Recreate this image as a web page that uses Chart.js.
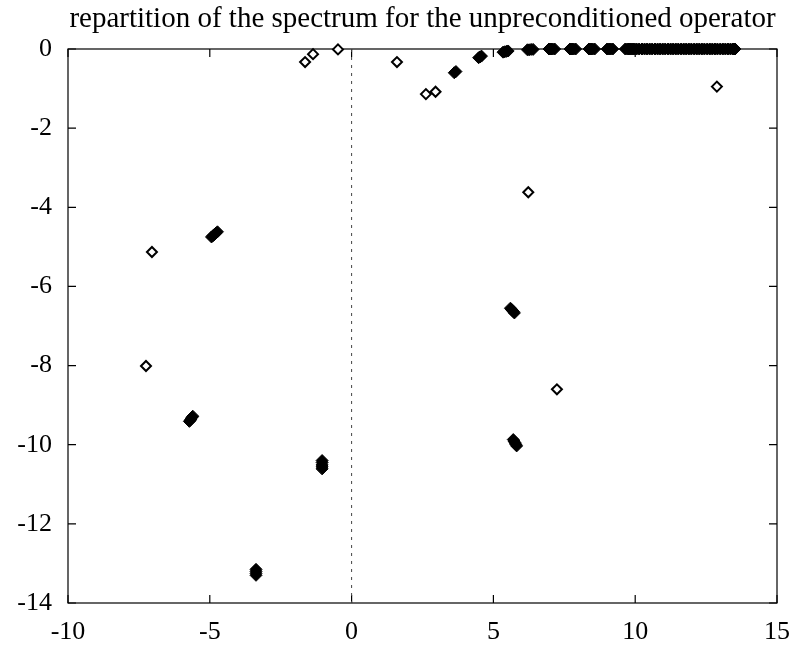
<!DOCTYPE html>
<html>
<head>
<meta charset="utf-8">
<script src="https://cdn.jsdelivr.net/npm/chart.js@4"></script>
<style>
  html, body { margin: 0; padding: 0; background: #fff; }
  canvas { display: block; }
</style>
</head>
<body>
<canvas id="c" width="792" height="645"></canvas>
<script>
// isolated eigenvalues (single hollow diamonds)
const singleRe = [-1.64, -1.36, -0.48, 1.60, 2.62, 2.96, 12.88, 6.23, 7.24, -7.04, -7.25]
const singleIm = [-0.33, -0.13, -0.01, -0.33, -1.14, -1.08, -0.95, -3.62, -8.60, -5.13, -8.01]

// clustered eigenvalues (overlapping diamonds, look like solid blobs)
const clusterRe = [
  3.62, 3.68, 4.48, 4.53, 4.58,
  5.34, 5.40, 5.46, 5.52, 6.20, 6.26, 6.33, 6.40,
  6.96, 7.03, 7.09, 7.16, 7.70, 7.77, 7.83, 7.90,
  8.37, 8.44, 8.50, 8.57, 9.01, 9.08, 9.14, 9.21,
  9.65, 9.72, 9.78, 9.85, 9.92, 9.98,
  10.05, 10.14, 10.24, 10.33, 10.42, 10.51, 10.60, 10.70, 10.79, 10.88,
  10.97, 11.06, 11.16, 11.25, 11.34, 11.43, 11.52, 11.62, 11.71, 11.80,
  11.89, 11.98, 12.08, 12.17, 12.26, 12.35, 12.44, 12.54, 12.63, 12.72,
  12.81, 12.90, 13.00, 13.09, 13.18, 13.27, 13.36, 13.45, 13.52,
  -4.94, -4.89, -4.84, -4.78, -4.73,
  -5.72, -5.69, -5.66, -5.63, -5.60,
  -1.04, -1.04, -1.04, -1.04, -1.04,
  -3.37, -3.37, -3.37, -3.37,
  5.60, 5.64, 5.67, 5.71, 5.74,
  5.70, 5.73, 5.76, 5.79, 5.82
]
const clusterIm = [
  -0.60, -0.57, -0.22, -0.20, -0.18,
  -0.08, -0.07, -0.06, -0.05, -0.02, -0.02, -0.01, -0.01,
  0, 0, 0, 0, 0, 0, 0, 0,
  0, 0, 0, 0, 0, 0, 0, 0,
  0, 0, 0, 0, 0, 0,
  0, 0, 0, 0, 0, 0, 0, 0, 0, 0,
  0, 0, 0, 0, 0, 0, 0, 0, 0, 0,
  0, 0, 0, 0, 0, 0, 0, 0, 0, 0,
  0, 0, 0, 0, 0, 0, 0, 0, 0,
  -4.75, -4.72, -4.69, -4.65, -4.62,
  -9.41, -9.38, -9.35, -9.31, -9.28,
  -10.40, -10.45, -10.51, -10.56, -10.61,
  -13.15, -13.20, -13.25, -13.30,
  -6.55, -6.58, -6.61, -6.64, -6.67,
  -9.87, -9.91, -9.95, -9.99, -10.03
]

// dotted imaginary axis
const axisRe = [0, 0]
const axisIm = [0, -14]

const xTicks = [-10, -5, 0, 5, 10, 15]
const yTicks = [0, -2, -4, -6, -8, -10, -12, -14]

const SERIF = "'Liberation Serif', 'Times New Roman', serif"

const toPoints = (xs, ys) => xs.map((x, i) => ({ x: x, y: ys[i] }))

// gnuplot style frame with inward ticks on all four sides
const framePlugin = {
  id: 'frame',
  beforeDatasetsDraw(chart) {
    const { ctx, chartArea: a, scales } = chart
    const len = 8
    ctx.save()
    ctx.strokeStyle = '#000'
    ctx.lineWidth = 1.2
    ctx.strokeRect(a.left, a.top, a.right - a.left, a.bottom - a.top)
    ctx.beginPath()
    xTicks.forEach(v => {
      const px = scales.x.getPixelForValue(v)
      ctx.moveTo(px, a.bottom); ctx.lineTo(px, a.bottom - len)
      ctx.moveTo(px, a.top); ctx.lineTo(px, a.top + len)
    })
    yTicks.forEach(v => {
      const py = scales.y.getPixelForValue(v)
      ctx.moveTo(a.left, py); ctx.lineTo(a.left + len, py)
      ctx.moveTo(a.right, py); ctx.lineTo(a.right - len, py)
    })
    ctx.stroke()
    ctx.restore()
  }
}

new Chart(document.getElementById('c'), {
  type: 'scatter',
  data: {
    datasets: [
      {
        data: toPoints(axisRe, axisIm),
        showLine: true,
        borderColor: '#444',
        borderWidth: 1,
        borderDash: [3, 5],
        pointRadius: 0,
        clip: false
      },
      {
        data: toPoints(singleRe, singleIm),
        pointStyle: 'rectRot',
        pointRadius: 5,
        pointBorderWidth: 2,
        borderColor: '#000',
        backgroundColor: '#fff',
        clip: false
      },
      {
        data: toPoints(clusterRe, clusterIm),
        pointStyle: 'rectRot',
        pointRadius: 6,
        pointBorderWidth: 1,
        borderColor: '#000',
        backgroundColor: '#000',
        clip: false
      }
    ]
  },
  options: {
    responsive: false,
    animation: false,
    events: [],
    layout: { padding: { left: 0, right: 15, top: 0, bottom: 0 } },
    plugins: {
      legend: { display: false },
      tooltip: { enabled: false },
      title: {
        display: true,
        fullSize: false,
        text: 'repartition of the spectrum for the unpreconditioned operator',
        color: '#000',
        font: { family: SERIF, size: 29, weight: 'normal', lineHeight: 1.2 },
        padding: { top: 2, bottom: 12.2 }
      }
    },
    scales: {
      x: {
        type: 'linear',
        min: -10,
        max: 15,
        afterFit: s => { s.height = 42; s.paddingLeft = 0; s.paddingRight = 0 },
        afterBuildTicks: s => { s.ticks = xTicks.map(v => ({ value: v })) },
        grid: { display: false, drawTicks: false },
        border: { display: false },
        ticks: {
          autoSkip: false,
          maxRotation: 0,
          padding: 14,
          color: '#000',
          font: { family: SERIF, size: 26 }
        }
      },
      y: {
        type: 'linear',
        min: -14,
        max: 0,
        afterFit: s => { s.width = 68; s.paddingTop = 0; s.paddingBottom = 0 },
        afterBuildTicks: s => { s.ticks = yTicks.map(v => ({ value: v })) },
        grid: { display: false, drawTicks: false },
        border: { display: false },
        ticks: {
          autoSkip: false,
          padding: 16,
          color: '#000',
          font: { family: SERIF, size: 26 }
        }
      }
    }
  },
  plugins: [framePlugin]
})
</script>
</body>
</html>
